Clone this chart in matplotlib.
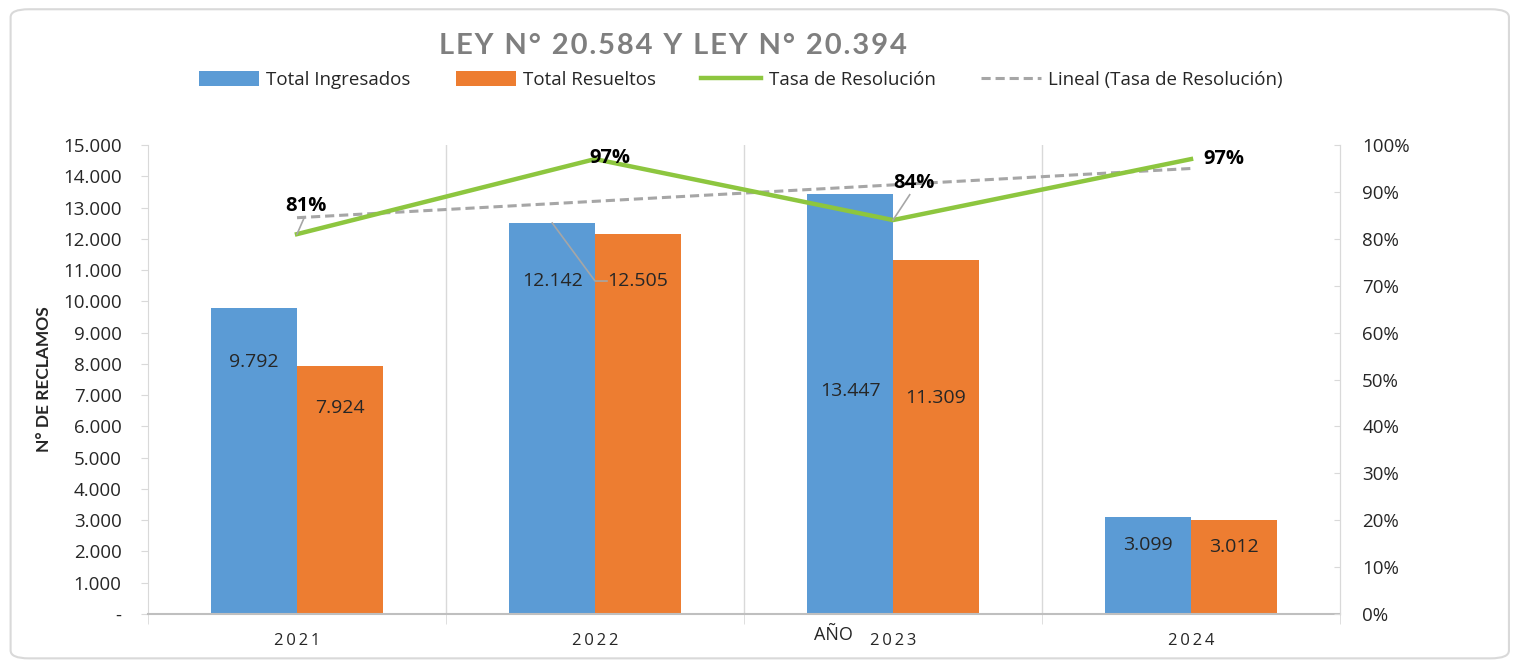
import numpy as np
import matplotlib.pyplot as plt
from matplotlib.patches import FancyBboxPatch
from matplotlib.ticker import FuncFormatter, PercentFormatter

plt.rcParams['font.family'] = ['Open Sans', 'DejaVu Sans']

# --- Data -----------------------------------------------------------------
years = ['2021', '2022', '2023', '2024']
ingresados = [9792, 12505, 13447, 3099]
resueltos = [7924, 12142, 11309, 3012]
tasa = [0.81, 0.97, 0.84, 0.97]

# labels as shown in the original (2022 labels were swapped by hand)
lbl_ing = ['9.792', '12.142', '13.447', '3.099']
lbl_res = ['7.924', '12.505', '11.309', '3.012']
lbl_tasa = ['81%', '97%', '84%', '97%']

# manual label placement (Excel labels were dragged around)
lbl_ing_y = [8060, 10650, 7130, 2200]
lbl_res_y = [6590, 10650, 6900, 2140]
tasa_lbl_dx = [0.03, 0.05, 0.07, 0.11]
tasa_lbl_y = [0.870, 0.972, 0.919, 0.970]

C_BLUE = '#5B9BD5'
C_ORANGE = '#ED7D31'
C_GREEN = '#8DC63F'
C_TREND = '#A6A6A6'
C_GRID = '#D9D9D9'
C_TEXT = '#262626'

x = np.arange(len(years))
w = 0.287

fig = plt.figure(figsize=(15.15, 6.61), dpi=100)
ax = fig.add_axes([0.0977, 0.0711, 0.7868, 0.7095])

ax.bar(x - w / 2, ingresados, w, color=C_BLUE, label='Total Ingresados', zorder=2)
ax.bar(x + w / 2, resueltos, w, color=C_ORANGE, label='Total Resueltos', zorder=2)

ax.set_xlim(-0.5, 3.5)
ax.set_ylim(0, 15000)
ax.set_yticks(np.arange(0, 15001, 1000))
ax.yaxis.set_major_formatter(FuncFormatter(
    lambda v, p: '-' if v == 0 else f'{int(v):,}'.replace(',', '.')))
ax.tick_params(axis='y', labelsize=13.5, colors=C_GRID, labelcolor=C_TEXT,
               length=5, pad=14)

ax.set_xticks(x)
ax.set_xticklabels(['\u2009'.join(y) for y in years], fontsize=12, color=C_TEXT)
ax.set_xticks(np.arange(-0.5, 3.6, 1), minor=True)
ax.tick_params(axis='x', which='major', length=0, pad=14)
ax.tick_params(axis='x', which='minor', length=7, color=C_GRID)
for xv in [0.5, 1.5, 2.5]:
    ax.axvline(xv, color=C_GRID, lw=1, zorder=0)

ax.spines['top'].set_visible(False)
ax.spines['left'].set_color(C_GRID)
ax.spines['right'].set_color(C_GRID)
ax.spines['bottom'].set_color('#BFBFBF')
ax.spines['bottom'].set_linewidth(1.5)

ax.set_ylabel('N° DE RECLAMOS', fontsize=12.5, fontweight='bold', color=C_TEXT,
              labelpad=8, family=['Lato', 'DejaVu Sans'])
ax.text(1.80, -0.045, 'AÑO', transform=ax.get_xaxis_transform(),
        ha='center', va='center', fontsize=13, color=C_TEXT)

# bar labels
for i in range(len(years)):
    ax.text(x[i] - w / 2, lbl_ing_y[i], lbl_ing[i], ha='center', va='center',
            fontsize=14, color=C_TEXT, zorder=4)
    ax.text(x[i] + w / 2, lbl_res_y[i], lbl_res[i], ha='center', va='center',
            fontsize=14, color=C_TEXT, zorder=4)

# leader line for 2022 label
ax.plot([x[1] - w / 2, x[1] + 0.0, x[1] + 0.04],
        [ingresados[1], lbl_res_y[1], lbl_res_y[1]],
        color='#A6A6A6', lw=1.2, zorder=3)

# secondary axis
ax2 = ax.twinx()
ax2.set_ylim(0, 1)
ax2.set_yticks(np.arange(0, 1.01, 0.1))
ax2.yaxis.set_major_formatter(PercentFormatter(1, decimals=0))
ax2.tick_params(axis='y', labelsize=13.5, colors=C_GRID, labelcolor=C_TEXT,
                direction='in', length=4, pad=16)
for s in ['top', 'left', 'bottom']:
    ax2.spines[s].set_visible(False)
ax2.spines['right'].set_color(C_GRID)

ax2.plot(x, tasa, color=C_GREEN, lw=3.2, label='Tasa de Resolución', zorder=3)
coef = np.polyfit(x, tasa, 1)
ax2.plot(x, np.polyval(coef, x), color=C_TREND, lw=2.2, ls=(0, (3, 1.6)),
         label='Lineal (Tasa de Resolución)', zorder=2)

for i in range(len(years)):
    ax2.text(x[i] + tasa_lbl_dx[i], tasa_lbl_y[i], lbl_tasa[i], ha='center',
             va='center', fontsize=14.5, fontweight='bold', color='#000000', zorder=5)

# small leader lines for 81% and 84%
for i in [0, 2]:
    ax2.plot([x[i], x[i] + tasa_lbl_dx[i] * 0.8],
             [tasa[i], tasa_lbl_y[i] - 0.025],
             color='#A6A6A6', lw=1.2, zorder=4)

# legend
h1, l1 = ax.get_legend_handles_labels()
h2, l2 = ax2.get_legend_handles_labels()
fig.legend(h1 + h2, l1 + l2, loc='center', bbox_to_anchor=(0.489, 0.879),
           ncol=4, frameon=False, fontsize=13.5, handlelength=3.2,
           handleheight=0.9, columnspacing=2.4, handletextpad=0.4,
           labelcolor=C_TEXT)

# title
title = 'LEY N° 20.584 Y LEY N° 20.394'
fig.text(0.444, 0.930, '\u200a'.join(title), family=['Lato', 'DejaVu Sans'],
         ha='center', va='center', fontsize=21, fontweight='bold', color='#7F7F7F')

# chart frame
frame = FancyBboxPatch((0.007, 0.004), 0.989, 0.982,
                       boxstyle='round,pad=0,rounding_size=0.012',
                       transform=fig.transFigure, fill=False, ec='#D9D9D9', lw=1.5)
fig.patches.append(frame)

plt.savefig('out.png', dpi=100)
plt.close()
